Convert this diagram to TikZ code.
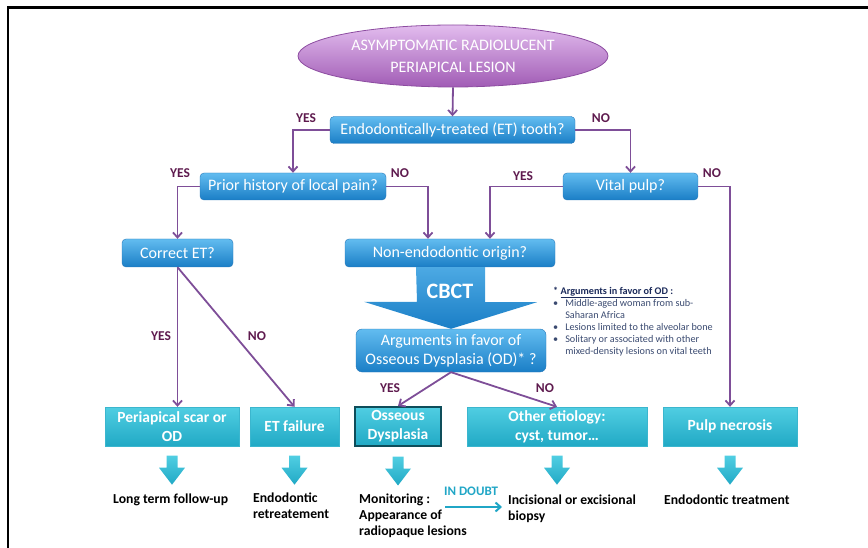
\documentclass[tikz,border=0pt]{standalone}
\usepackage{fontspec}
\setmainfont{Carlito}
\usepackage{tikz}
\usetikzlibrary{arrows.meta,shapes.geometric}

\definecolor{linkpurple}{HTML}{7E4E98}
\definecolor{answercol}{HTML}{5E1A4E}
\definecolor{boxtop}{HTML}{62BCF0}
\definecolor{boxbot}{HTML}{1A7EC6}
\definecolor{boxedge}{HTML}{2777B8}
\definecolor{tealtop}{HTML}{50CEE2}
\definecolor{tealbot}{HTML}{21A9C5}
\definecolor{tealedge}{HTML}{3BB6CE}
\definecolor{osseousedge}{HTML}{0E4D5A}
\definecolor{lilactop}{HTML}{E2BCEE}
\definecolor{lilacbot}{HTML}{A15CB5}
\definecolor{lilacedge}{HTML}{8C4CA0}
\definecolor{notetitle}{HTML}{1B2A5A}
\definecolor{notetext}{HTML}{3A4A70}
\definecolor{doubtteal}{HTML}{20A6C6}

\begin{document}
\begin{tikzpicture}[x=1pt,y=-1pt,
    link/.style={draw=linkpurple,line width=1.8pt,-{Straight Barb[length=5pt,width=9pt]}},
    lesionbox/.style={ellipse,draw=lilacedge,line width=0.8pt,top color=lilactop,bottom color=lilacbot,
      minimum width=310pt,minimum height=62pt,text=white,align=center,font=\fontsize{16}{22}\selectfont},
    bluebox/.style={rounded corners=4pt,draw=boxedge,top color=boxtop,bottom color=boxbot,text=white,
      font=\fontsize{16}{19}\selectfont,minimum height=27pt,inner sep=1pt},
    tealbox/.style={draw=tealedge,top color=tealtop,bottom color=tealbot,text=white,
      font=\bfseries\fontsize{15.5}{19}\selectfont,minimum height=39pt,align=center,inner sep=1pt},
    tealarrow/.style={top color=tealtop,bottom color=tealbot},
    answer/.style={text=answercol,font=\bfseries\fontsize{13.5}{15}\selectfont},
    outcome/.style={font=\bfseries\fontsize{13.7}{16}\selectfont,align=left,inner sep=0pt,anchor=north west},
  ]

    \useasboundingbox (0,0) rectangle (868,548);
    \draw[line width=2.5pt] (8,548) -- (8,7.5) -- (868,7.5);

    \def\tealdown#1{
      \shade[tealarrow] ([yshift=-9.5pt]#1.south) +(-5.5,0) -- +(5.5,0) -- +(5.5,12) -- +(13,12)
        -- +(0,29) -- +(-13,12) -- +(-5.5,12) -- cycle;
    }

    % question boxes
    \node[lesionbox] (lesion) at (453,56) {ASYMPTOMATIC RADIOLUCENT\\PERIAPICAL LESION};
    \node[bluebox,minimum width=245pt] (et) at (452.5,130) {Endodontically-treated (ET) tooth?};
    \node[bluebox,minimum width=186pt] (prior) at (293,186.5) {Prior history of local pain?};
    \node[bluebox,minimum width=135pt] (vital) at (630.5,186.5) {Vital pulp?};
    \node[bluebox,minimum width=111pt,minimum height=28pt] (correct) at (177.5,253) {Correct ET?};
    \node[bluebox,minimum width=210pt,minimum height=28pt] (nonendo) at (450,253) {Non-endodontic origin?};
    \node[bluebox,minimum width=190pt,minimum height=43pt,align=center,rounded corners=6pt] (args)
      at (451,350.5) {Arguments in favor of\\Osseous Dysplasia (OD)* ?};

    % diagnoses
    \node[tealbox,minimum width=134pt] (periap) at (172,426.5) {Periapical scar or\\OD};
    \node[tealbox,minimum width=89pt] (etfail) at (294.5,426.5) {ET failure};
    \node[tealbox,minimum width=86pt,draw=osseousedge,line width=2pt] (osseous) at (398,426.5) {Osseous\\Dysplasia};
    \node[tealbox,minimum width=180pt] (other) at (557,426.5) {Other etiology:\\cyst, tumor…};
    \node[tealbox,minimum width=134pt] (pulp) at (730,426.5) {Pulp necrosis};

    % CBCT step
    \shade[top color=boxtop!70!boxbot,bottom color=boxbot] ([xshift=-34pt]nonendo.south) -- ([xshift=35pt]nonendo.south)
      -- ++(0,35) -- ++(52,0) -- (args.north) -- ++(-87,-27) -- ++(53,0) -- cycle;
    \node[text=white,font=\bfseries\fontsize{22}{24}\selectfont] (cbct) at (450,291) {CBCT};

    \draw[link] (lesion.south) -- (et.north);
    \draw[link] (et.west) -| (prior.north);
    \draw[link] (et.east) -| (vital.north);
    \draw[link] (prior.west) -| (correct.north);
    \draw[link] (prior.east) -| ([xshift=-22pt]nonendo.north);
    \draw[link] (vital.west) -| ([xshift=40pt]nonendo.north);
    \draw[link] (vital.east) -| (pulp.north);
    \draw[link] (correct.south) -- (correct.south |- periap.north);
    \draw[link] (correct.south) -- (etfail.north);
    \draw[link] (args.south) -- (osseous.north);
    \draw[link] (args.south) -- (other.north);

    \node[answer] (etyes) at (306,118) {YES};
    \node[answer] (etno) at (601,118) {NO};
    \node[answer] (prioryes) at (180,173) {YES};
    \node[answer] (priorno) at (400,173) {NO};
    \node[answer] (vitalyes) at (523,176) {YES};
    \node[answer] (vitalno) at (712,173) {NO};
    \node[answer] (correctyes) at (161,336) {YES};
    \node[answer] (correctno) at (257,336) {NO};
    \node[answer] (argsyes) at (390,388) {YES};
    \node[answer] (argsno) at (545,388) {NO};

    \node[anchor=north west,align=left,inner sep=0pt,text=notetext,font=\fontsize{10.2}{12}\selectfont] (note) at (553,287)
      {{\color{notetitle}\bfseries * \underline{Arguments in favor of OD} :}\\
       \textbullet\hspace{7pt}Middle-aged woman from sub-\\
       \phantom{\textbullet}\hspace{7pt}Saharan Africa\\
       \textbullet\hspace{7pt}Lesions limited to the alveolar bone\\
       \textbullet\hspace{7pt}Solitary or associated with other\\
       \phantom{\textbullet}\hspace{7pt}mixed-density lesions on vital teeth};

    \foreach \b in {periap,etfail,osseous,other,pulp}
      \tealdown{\b};

    % outcomes
    \node[outcome] (followup) at (113,494) {Long term follow-up};
    \node[outcome] (retreat) at (253,493) {Endodontic\\retreatement};
    \node[outcome] (monitor) at (359,494) {Monitoring :\\Appearance of\\radiopaque lesions};
    \node[outcome] (biopsy) at (508,495) {Incisional or excisional\\biopsy};
    \node[outcome] (endotreat) at (664,495) {Endodontic treatment};

    \node[text=doubtteal,font=\bfseries\fontsize{13}{14}\selectfont] (doubt) at (471,491) {IN DOUBT};
    \coordinate (d0) at (445,507);
    \draw[doubtteal,line width=2pt,-{Straight Barb[length=5pt,width=9pt]},shorten >=6pt] (d0) -- (d0 -| biopsy.west);

\end{tikzpicture}
\end{document}
